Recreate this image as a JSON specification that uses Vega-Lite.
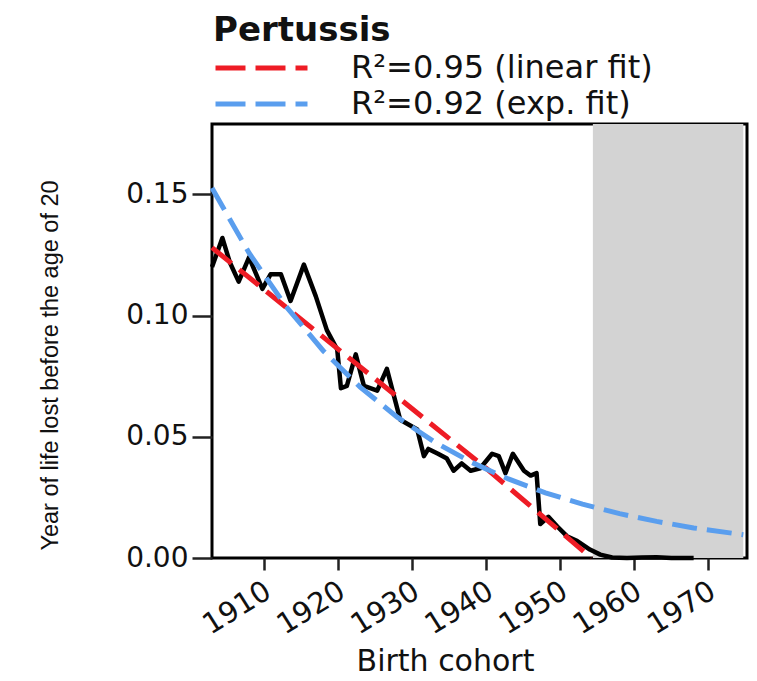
{
  "$schema": "https://vega.github.io/schema/vega-lite/v6.json",
  "width": 535,
  "height": 434,
  "autosize": "none",
  "padding": {"left": 212, "top": 124, "right": 10, "bottom": 123},
  "background": "white",
  "config": {
    "view": {"stroke": "black", "strokeWidth": 3},
    "font": "DejaVu Sans"
  },
  "datasets": {
    "shade": [{"year": 1954.4, "year_end": 1974.7, "value": 0, "value_top": 0.179}],
    "obs": [
      {"year": 1903.0, "value": 0.120},
      {"year": 1904.4, "value": 0.132},
      {"year": 1905.4, "value": 0.122},
      {"year": 1906.6, "value": 0.114},
      {"year": 1908.0, "value": 0.124},
      {"year": 1909.8, "value": 0.111},
      {"year": 1910.9, "value": 0.117},
      {"year": 1912.3, "value": 0.117},
      {"year": 1913.6, "value": 0.106},
      {"year": 1915.4, "value": 0.121},
      {"year": 1917.0, "value": 0.108},
      {"year": 1918.5, "value": 0.094},
      {"year": 1919.9, "value": 0.086},
      {"year": 1920.4, "value": 0.070},
      {"year": 1921.2, "value": 0.071},
      {"year": 1922.4, "value": 0.084},
      {"year": 1923.5, "value": 0.071},
      {"year": 1925.3, "value": 0.069},
      {"year": 1926.6, "value": 0.078},
      {"year": 1928.4, "value": 0.057},
      {"year": 1930.7, "value": 0.053},
      {"year": 1931.6, "value": 0.042},
      {"year": 1932.2, "value": 0.045},
      {"year": 1933.5, "value": 0.043},
      {"year": 1934.7, "value": 0.041},
      {"year": 1935.6, "value": 0.036},
      {"year": 1936.7, "value": 0.039},
      {"year": 1937.9, "value": 0.036},
      {"year": 1939.2, "value": 0.037},
      {"year": 1940.8, "value": 0.043},
      {"year": 1941.7, "value": 0.042},
      {"year": 1942.6, "value": 0.035},
      {"year": 1943.6, "value": 0.043},
      {"year": 1945.1, "value": 0.036},
      {"year": 1946.0, "value": 0.034},
      {"year": 1946.8, "value": 0.035},
      {"year": 1947.3, "value": 0.014},
      {"year": 1948.4, "value": 0.017},
      {"year": 1949.6, "value": 0.013},
      {"year": 1950.9, "value": 0.009},
      {"year": 1952.3, "value": 0.007},
      {"year": 1954.0, "value": 0.0035},
      {"year": 1955.4, "value": 0.0014},
      {"year": 1957.0, "value": 0.0002},
      {"year": 1959.0, "value": 0.0},
      {"year": 1961.0, "value": 0.0002},
      {"year": 1963.0, "value": 0.0003},
      {"year": 1965.0, "value": 0.0},
      {"year": 1968.0, "value": 0.0}
    ],
    "fits": [
      {"fit": "R²=0.95 (linear fit)", "year": 1903.0, "value": 0.128},
      {"fit": "R²=0.95 (linear fit)", "year": 1940.0, "value": 0.037},
      {"fit": "R²=0.95 (linear fit)", "year": 1954.2, "value": 0.0},
      {"fit": "R²=0.92 (exp. fit)", "year": 1903.0, "value": 0.1526},
      {"fit": "R²=0.92 (exp. fit)", "year": 1908.0, "value": 0.1258},
      {"fit": "R²=0.92 (exp. fit)", "year": 1913.0, "value": 0.1037},
      {"fit": "R²=0.92 (exp. fit)", "year": 1918.0, "value": 0.0855},
      {"fit": "R²=0.92 (exp. fit)", "year": 1923.0, "value": 0.0705},
      {"fit": "R²=0.92 (exp. fit)", "year": 1928.0, "value": 0.0581},
      {"fit": "R²=0.92 (exp. fit)", "year": 1933.0, "value": 0.0479},
      {"fit": "R²=0.92 (exp. fit)", "year": 1938.0, "value": 0.0395},
      {"fit": "R²=0.92 (exp. fit)", "year": 1943.0, "value": 0.0326},
      {"fit": "R²=0.92 (exp. fit)", "year": 1948.0, "value": 0.0269},
      {"fit": "R²=0.92 (exp. fit)", "year": 1953.0, "value": 0.0222},
      {"fit": "R²=0.92 (exp. fit)", "year": 1958.0, "value": 0.0183},
      {"fit": "R²=0.92 (exp. fit)", "year": 1963.0, "value": 0.0151},
      {"fit": "R²=0.92 (exp. fit)", "year": 1968.0, "value": 0.0124},
      {"fit": "R²=0.92 (exp. fit)", "year": 1974.7, "value": 0.0096}
    ]
  },
  "encoding": {
    "x": {
      "field": "year",
      "type": "quantitative",
      "scale": {"domain": [1903, 1975.2], "nice": false, "zero": false},
      "axis": {
        "title": "Birth cohort",
        "values": [1910, 1920, 1930, 1940, 1950, 1960, 1970],
        "format": "d",
        "grid": false,
        "domain": false,
        "ticks": true,
        "tickSize": 12,
        "tickWidth": 2.5,
        "tickColor": "#222222",
        "labelAngle": -32,
        "labelAlign": "right",
        "labelBaseline": "middle",
        "labelPadding": 18,
        "labelOffset": 4,
        "labelFont": "DejaVu Sans",
        "labelFontSize": 29,
        "labelColor": "#111111",
        "labelOverlap": false,
        "labelFlush": false,
        "titleFont": "DejaVu Sans",
        "titleFontSize": 30,
        "titleFontWeight": "normal",
        "titleColor": "#111111",
        "titleX": 233,
        "titleY": 112,
        "titleAlign": "center",
        "titleBaseline": "alphabetic"
      }
    },
    "y": {
      "field": "value",
      "type": "quantitative",
      "scale": {"domain": [0, 0.179], "nice": false},
      "axis": {
        "title": "Year of life lost before the age of 20",
        "values": [0, 0.05, 0.1, 0.15],
        "format": ".2f",
        "grid": false,
        "domain": false,
        "tickSize": 20,
        "tickWidth": 2.5,
        "tickColor": "#222222",
        "labelPadding": 4,
        "labelFont": "DejaVu Sans",
        "labelFontSize": 28,
        "labelColor": "#111111",
        "labelFlush": false,
        "labelOverlap": false,
        "titleFont": "Liberation Sans",
        "titleFontSize": 23.5,
        "titleFontWeight": "normal",
        "titleColor": "#111111",
        "titleX": -155,
        "titleY": 241,
        "titleAngle": -90,
        "titleAlign": "center",
        "titleBaseline": "alphabetic"
      }
    }
  },
  "layer": [
    {
      "data": {"name": "shade"},
      "mark": {"type": "rect", "color": "#D3D3D3"},
      "encoding": {
        "x2": {"field": "year_end"},
        "y2": {"field": "value_top"}
      }
    },
    {
      "data": {"name": "obs"},
      "mark": {"type": "line", "color": "black", "strokeWidth": 4.5, "strokeJoin": "round"},
      "encoding": {}
    },
    {
      "data": {"name": "fits"},
      "mark": {"type": "line", "strokeWidth": 5, "strokeDash": [25, 10]},
      "encoding": {
        "color": {
          "field": "fit",
          "type": "nominal",
          "scale": {
            "domain": ["R²=0.95 (linear fit)", "R²=0.92 (exp. fit)"],
            "range": ["#EE1C25", "#5A9EEE"]
          },
          "legend": {
            "orient": "none",
            "legendX": 1,
            "legendY": -110,
            "padding": 0,
            "title": "Pertussis",
            "titleFont": "DejaVu Sans",
            "titleFontSize": 34,
            "titleFontWeight": "bold",
            "titleColor": "#111111",
            "titlePadding": 6,
            "labelFont": "DejaVu Sans",
            "labelFontSize": 32,
            "labelColor": "#111111",
            "labelOffset": 41,
            "labelLimit": 600,
            "symbolType": "stroke",
            "symbolSize": 8464,
            "symbolStrokeWidth": 5,
            "symbolDash": [30, 10],
            "clipHeight": 28,
            "rowPadding": 4
          }
        }
      }
    }
  ]
}
